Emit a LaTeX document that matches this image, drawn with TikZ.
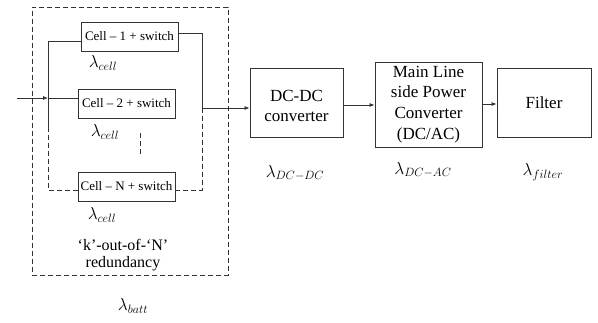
\documentclass[tikz,border=0pt]{standalone}
\usepackage{fontspec}
\setmainfont{Liberation Serif}
\usetikzlibrary{arrows.meta}
\tikzset{
  lineclr/.style={draw=black!80, line width=0.9pt},
  block/.style={lineclr, rectangle, align=center, inner sep=0pt,
    font=\fontsize{17}{20.7}\selectfont},
  blocktext/.style={inner sep=0pt, align=center, font=\fontsize{17}{20.7}\selectfont},
  cellbox/.style={lineclr, rectangle, inner sep=0pt, minimum width=97pt,
    minimum height=29pt, font=\fontsize{13}{15}\selectfont},
  wire/.style={draw=black!80, line width=0.8pt},
  dwire/.style={wire, dash pattern=on 5pt off 3pt},
  flow/.style={wire, -{Latex[length=5pt,width=4pt]}},
  rate/.style={inner sep=0pt, font=\fontsize{17}{20}\selectfont},
  note/.style={inner sep=0pt, align=center, font=\fontsize{16}{17}\selectfont}
}
\begin{document}
\begin{tikzpicture}[x=1pt,y=-1pt]
\useasboundingbox (0,0) rectangle (598,323);

% battery group enclosure
\node[dwire, rectangle, minimum width=196pt, minimum height=268pt, inner sep=0pt]
  (grp) at (130,141) {};

% cells
\node[cellbox] (c1) at (129.5,36.5) {Cell – 1 + switch};
\node[cellbox] (c2) at (126.5,103.5) {Cell – 2 + switch};
\node[cellbox] (cn) at (126.5,186.5) {Cell – N + switch};

% converter chain
\node[block, minimum width=93pt, minimum height=69pt] (dc) at (296.5,102.5) {};
\node[blocktext] (dct) at (296.5,106) {DC-DC\\converter};
\node[block, minimum width=107pt, minimum height=85pt] (inv) at (428.5,104.5)
  {Main Line\\side Power\\Converter\\ (DC/AC)};
\node[block, minimum width=94pt, minimum height=69pt] (flt) at (544,102.5) {Filter};

% bus coordinates
\coordinate (in) at (17,98);
\coordinate (jl) at (48,98);
\coordinate (lt) at (48,41);
\coordinate (ls) at (48,127);
\coordinate (lb) at (48,190);
\coordinate (rt) at (202,33);
\coordinate (rm) at (202,108);
\coordinate (rb) at (202,190);
\coordinate (d1) at (140,133);
\coordinate (d2) at (140,156);

% input and left bus
\draw[flow] (in) -- (jl);
\draw[wire] (jl) -- (c2.west |- jl);
\draw[wire] (c1.west |- lt) -- (lt) -- (ls);
\draw[dwire] (ls) -- (lb) -- (cn.west |- lb);

% right bus
\draw[wire] (c1.east |- rt) -- (rt) -- (rm);
\draw[flow] (rm) -- (dc.west |- rm);
\draw[dwire] (rm) -- (rb) -- (cn.east |- rb);
\draw[dwire] (d1) -- (d2);

% chain arrows
\draw[flow] (dc.east |- 0,105) -- (inv.west |- 0,105);
\draw[flow] (inv.east |- 0,104) -- (flt.west |- 0,104);

% failure rates
\node[rate] (l1) at (103,63) {$\lambda_{cell}$};
\node[rate] (l2) at (105,132) {$\lambda_{cell}$};
\node[rate] (l3) at (102,215) {$\lambda_{cell}$};
\node[rate] (lb1) at (133,306) {$\lambda_{batt}$};
\node[rate] (ldc) at (295,173) {$\lambda_{DC-DC}$};
\node[rate] (lac) at (423,170) {$\lambda_{DC-AC}$};
\node[rate] (lf) at (543,172) {$\lambda_{filter}$};

% redundancy note
\node[note] (kn) at (123,255.5) {‘k’-out-of-‘N’\\redundancy};
\end{tikzpicture}
\end{document}
